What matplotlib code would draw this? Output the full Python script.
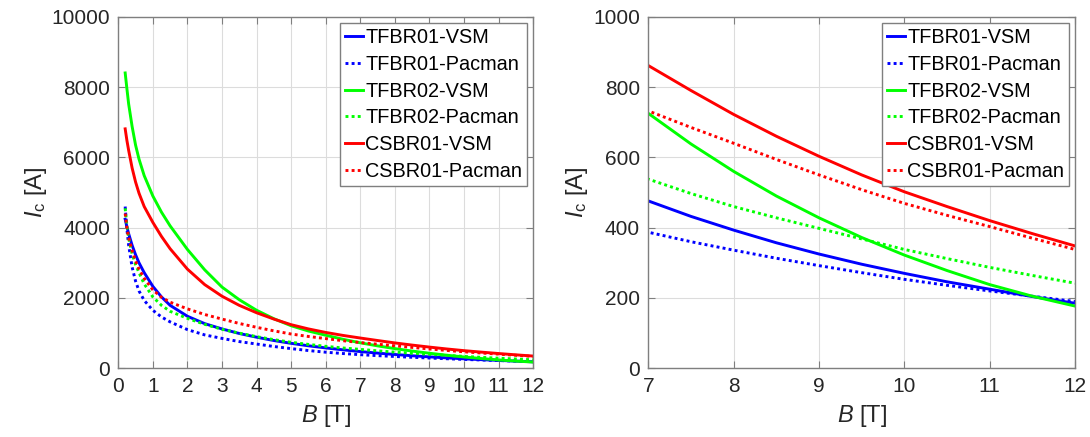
import matplotlib
matplotlib.use("Agg")
import matplotlib.pyplot as plt

plt.rcParams["font.family"] = ["Liberation Sans", "DejaVu Sans"]
plt.rcParams["mathtext.fontset"] = "custom"
plt.rcParams["mathtext.rm"] = "Liberation Sans"
plt.rcParams["mathtext.it"] = "Liberation Sans:italic"

# Magnetic field B [T]
field = [0.2, 0.25, 0.3, 0.4, 0.5, 0.6, 0.75, 1.0, 1.25, 1.5, 2.0, 2.5, 3.0, 3.5,
         4.0, 4.5, 5.0, 5.5, 6.0, 6.5, 7.0, 7.5, 8.0, 8.5, 9.0, 9.5, 10.0, 10.5,
         11.0, 11.5, 12.0]

# Critical current Ic [A]
tfbr01_vsm = [4240, 4020, 3830, 3500, 3230, 3000, 2720, 2330, 2030, 1790, 1480, 1270,
              1120, 990, 885, 790, 710, 640, 580, 525, 476, 432, 393, 357, 325, 296,
              270, 246, 225, 204, 185]
tfbr01_pacman = [4600, 3950, 3500, 2880, 2480, 2200, 1930, 1650, 1460, 1320, 1100, 950,
                 850, 760, 690, 620, 560, 505, 458, 420, 387, 360, 336, 313, 292, 272,
                 253, 236, 220, 205, 190]
tfbr02_vsm = [8400, 7950, 7520, 6880, 6350, 5950, 5480, 4900, 4440, 4050, 3380, 2800,
              2310, 1950, 1650, 1410, 1210, 1060, 940, 825, 725, 638, 560, 490, 428, 372,
              322, 278, 238, 205, 177]
tfbr02_pacman = [4550, 4050, 3700, 3250, 2950, 2720, 2400, 2030, 1790, 1620, 1420, 1250,
                 1110, 1000, 900, 815, 740, 680, 625, 578, 538, 497, 460, 428, 398, 368,
                 338, 312, 287, 264, 242]
csbr01_vsm = [6810, 6480, 6200, 5700, 5300, 4980, 4600, 4150, 3750, 3400, 2820, 2380,
              2050, 1790, 1580, 1400, 1240, 1120, 1020, 935, 861, 790, 722, 660, 603,
              550, 502, 460, 420, 383, 348]
csbr01_pacman = [4400, 4000, 3720, 3350, 3050, 2820, 2560, 2230, 2020, 1880, 1690, 1530,
                 1400, 1275, 1166, 1065, 975, 905, 845, 785, 732, 685, 640, 594, 550,
                 508, 469, 435, 403, 370, 338]

labels = ["TFBR01-VSM", "TFBR01-Pacman", "TFBR02-VSM", "TFBR02-Pacman",
          "CSBR01-VSM", "CSBR01-Pacman"]
series = [tfbr01_vsm, tfbr01_pacman, tfbr02_vsm, tfbr02_pacman, csbr01_vsm, csbr01_pacman]
colors = ["#0000ff", "#0000ff", "#00ff00", "#00ff00", "#ff0000", "#ff0000"]
styles = ["-", ":", "-", ":", "-", ":"]

left_xticks = list(range(0, 13))
left_yticks = [0, 2000, 4000, 6000, 8000, 10000]
right_xticks = [7, 8, 9, 10, 11, 12]
right_yticks = [0, 200, 400, 600, 800, 1000]

axis_gray = "#262626"
fig = plt.figure(figsize=(10.9, 4.37), dpi=100)
ax1 = fig.add_axes([0.1085, 0.1572, 0.3807, 0.8046])
ax2 = fig.add_axes([0.5948, 0.1572, 0.3915, 0.8046])


def style_axes(ax, xlim, ylim, xticks, yticks):
    for y, lab, c, ls in zip(series, labels, colors, styles):
        ax.plot(field, y, color=c, linestyle=ls, linewidth=2.1, label=lab,
                dashes=(1, 1.1) if ls == ":" else (None, None))
    ax.set_xlim(*xlim)
    ax.set_ylim(*ylim)
    ax.set_xticks(xticks)
    ax.set_yticks(yticks)
    ax.grid(True, color="#dcdcdc", linewidth=0.8)
    ax.set_axisbelow(True)
    for s in ax.spines.values():
        s.set_color("#7f7f7f")
        s.set_linewidth(1.0)
    ax.tick_params(direction="in", length=5, width=0.8, color="#7f7f7f",
                   top=True, right=True, labelsize=15, labelcolor=axis_gray, pad=6)
    ax.set_xlabel(r"$\mathit{B}$ [T]", fontsize=17, color=axis_gray, labelpad=5)
    ax.set_ylabel(r"$\mathit{I}_\mathrm{c}$ [A]", fontsize=17, color=axis_gray, labelpad=2)
    leg = ax.legend(loc="upper right", fontsize=14.3, handlelength=0.9,
                    handletextpad=0.1, labelspacing=0.4, borderpad=0.25,
                    borderaxespad=0.3, fancybox=False, framealpha=1.0,
                    edgecolor="#7f7f7f")
    leg.get_frame().set_linewidth(1.0)
    for t in leg.get_texts():
        t.set_color("#000000")


style_axes(ax1, (0, 12), (0, 10000), left_xticks, left_yticks)
style_axes(ax2, (7, 12), (0, 1000), right_xticks, right_yticks)

fig.savefig("out.png", dpi=100)
